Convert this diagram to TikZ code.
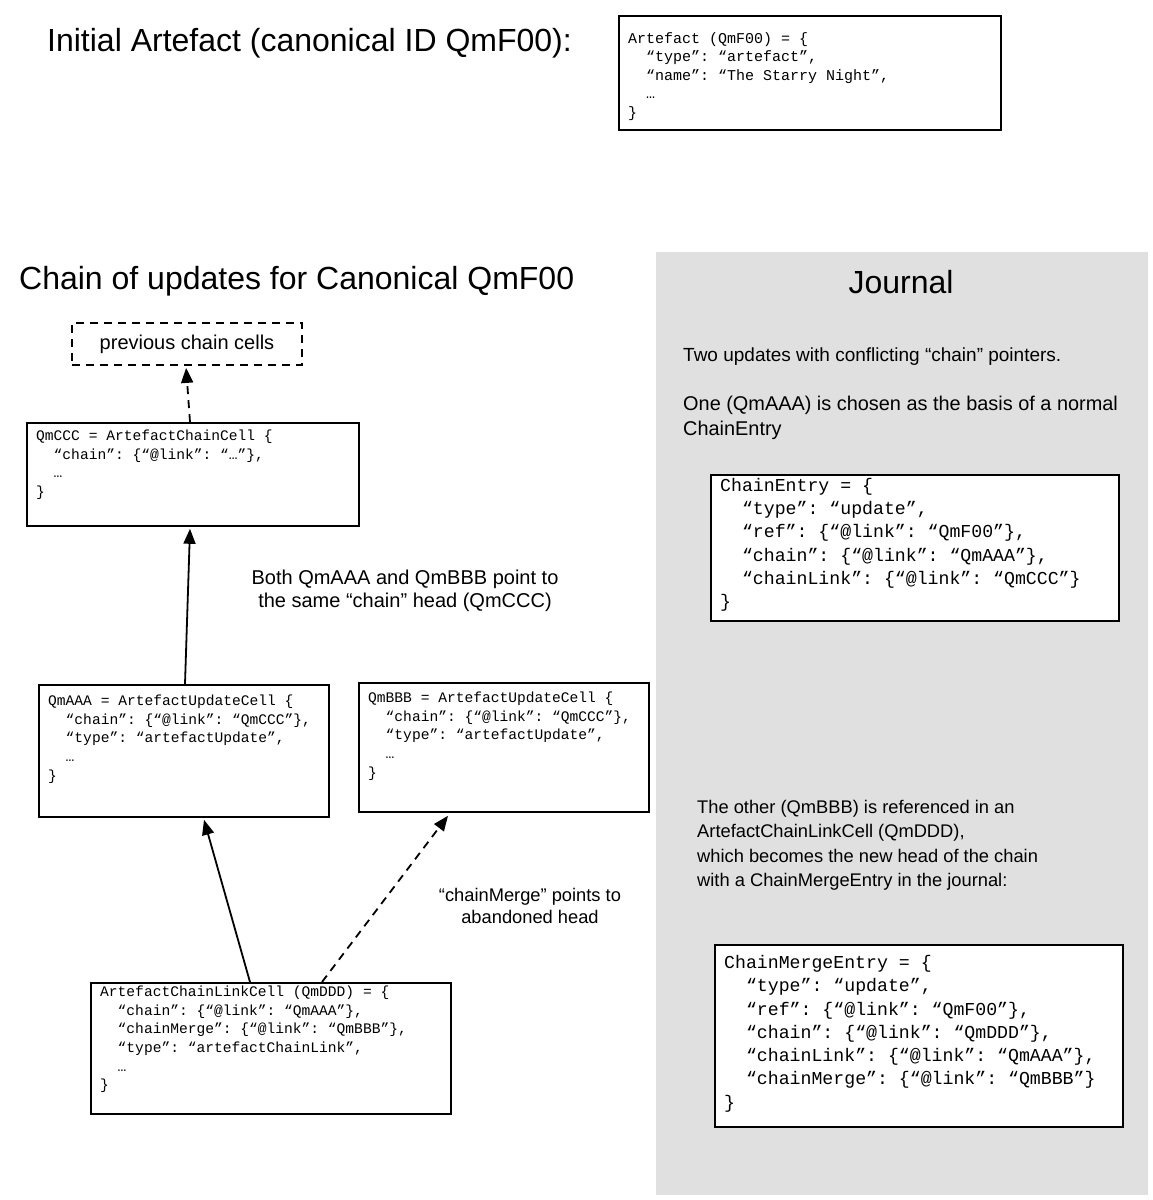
\documentclass[tikz,border=0pt]{standalone}
\usepackage{fontspec}
\setmainfont{Liberation Sans}
\setmonofont{Liberation Mono}
\usetikzlibrary{arrows.meta,calc}
\definecolor{journalgray}{HTML}{E0E0E0}
\tikzset{
  cellbox/.style={draw=black, line width=1.8pt, fill=white, inner sep=0pt, anchor=north west},
  smallcode/.style={font=\fontsize{14.6}{18.6}\selectfont\ttfamily, align=left, inner sep=0pt, anchor=north west},
  midcode/.style={font=\fontsize{15}{18.6}\selectfont\ttfamily, align=left, inner sep=0pt, anchor=north west},
  bigcode/.style={font=\fontsize{18.2}{23.3}\selectfont\ttfamily, align=left, inner sep=0pt, anchor=north west},
  title/.style={font=\fontsize{32}{36}\selectfont, inner sep=0pt},
  bodytext/.style={inner sep=0pt},
  arr/.style={line width=1.8pt, -{Triangle[length=15pt,width=12pt]}},
  dashpat/.style={dash pattern=on 8pt off 6pt},
}
\newcommand{\ind}{\hphantom{xx}}
\begin{document}
\begin{tikzpicture}[x=1pt,y=-1pt]
\useasboundingbox (0,0) rectangle (1152,1200);
\fill[white] (0,0) rectangle (1152,1200);
% journal background
\fill[journalgray] (656,252) rectangle (1148,1195);

% titles
\node[title, anchor=west] (t1) at (47,43) {Initial Artefact (canonical ID QmF00):};
\node[title, anchor=west] (t2) at (19,281) {Chain of updates for Canonical QmF00};
\node[title] (tj) at (901,282) {Journal};

% artefact box
\node[cellbox, minimum width=382, minimum height=114] (art) at (618,15) {};
\node[midcode] (artt) at ($(art.north west)+(10,17)$) {Artefact (QmF00) = \{\\\ind “type”: “artefact”,\\\ind “name”: “The Starry Night”,\\\ind …\\\}};

% previous chain cells
\node[draw=black, line width=1.8pt, dashpat, minimum width=230, minimum height=42, inner sep=0pt, font=\fontsize{20}{24}\selectfont] (prev) at (187,344) {previous chain cells};

% QmCCC
\node[cellbox, minimum width=332, minimum height=103] (ccc) at (26,422) {};
\node[smallcode] (ccct) at ($(ccc.north west)+(10,8)$) {QmCCC = ArtefactChainCell \{\\\ind “chain”: \{“@link”: “…”\},\\\ind …\\\}};

% QmAAA
\node[cellbox, minimum width=290, minimum height=132] (aaa) at (38,684) {};
\node[smallcode] (aaat) at ($(aaa.north west)+(10,11)$) {QmAAA = ArtefactUpdateCell \{\\\ind “chain”: \{“@link”: “QmCCC”\},\\\ind “type”: “artefactUpdate”,\\\ind …\\\}};

% QmBBB
\node[cellbox, minimum width=290, minimum height=129] (bbb) at (358,682) {};
\node[smallcode] (bbbt) at ($(bbb.north west)+(10,10)$) {QmBBB = ArtefactUpdateCell \{\\\ind “chain”: \{“@link”: “QmCCC”\},\\\ind “type”: “artefactUpdate”,\\\ind …\\\}};

% QmDDD
\node[cellbox, minimum width=360, minimum height=131] (ddd) at (90,982) {};
\node[smallcode] (dddt) at ($(ddd.north west)+(10,4)$) {ArtefactChainLinkCell (QmDDD) = \{\\\ind “chain”: \{“@link”: “QmAAA”\},\\\ind “chainMerge”: \{“@link”: “QmBBB”\},\\\ind “type”: “artefactChainLink”,\\\ind …\\\}};

% labels
\node[bodytext, align=center, font=\fontsize{20}{23.5}\selectfont] (lab1) at (405,591) {Both QmAAA and QmBBB point to\\the same “chain” head (QmCCC)};
\node[bodytext, align=center, font=\fontsize{18.3}{22}\selectfont] (lab2) at (530,906) {“chainMerge” points to\\abandoned head};

% journal texts
\node[bodytext, anchor=west, font=\fontsize{19}{24}\selectfont] (j1) at (683,357) {Two updates with conflicting “chain” pointers.};
\node[bodytext, anchor=north west, align=left, font=\fontsize{19.9}{25}\selectfont] (j2) at (683,396) {One (QmAAA) is chosen as the basis of a normal\\ChainEntry};
\node[bodytext, anchor=north west, align=left, font=\fontsize{18.3}{24.5}\selectfont] (j3) at (697,800) {The other (QmBBB) is referenced in an\\ArtefactChainLinkCell (QmDDD),\\which becomes the new head of the chain\\with a ChainMergeEntry in the journal:};

% ChainEntry
\node[cellbox, minimum width=408, minimum height=146] (ce) at (710,474) {};
\node[bigcode] (cet) at ($(ce.north west)+(10,4)$) {ChainEntry = \{\\\ind “type”: “update”,\\\ind “ref”: \{“@link”: “QmF00”\},\\\ind “chain”: \{“@link”: “QmAAA”\},\\\ind “chainLink”: \{“@link”: “QmCCC”\}\\\}};

% ChainMergeEntry
\node[cellbox, minimum width=408, minimum height=182] (cme) at (714,944) {};
\node[bigcode] (cmet) at ($(cme.north west)+(10,11)$) {ChainMergeEntry = \{\\\ind “type”: “update”,\\\ind “ref”: \{“@link”: “QmF00”\},\\\ind “chain”: \{“@link”: “QmDDD”\},\\\ind “chainLink”: \{“@link”: “QmAAA”\},\\\ind “chainMerge”: \{“@link”: “QmBBB”\}\\\}};

% connectors
\coordinate (c0) at ($(ccc.north west)+(164,0)$);
\coordinate (p0) at ($(prev.south west)+(115,2)$);
\draw[arr, dashpat] (c0) -- (p0);

\coordinate (a0) at ($(aaa.north west)+(147,0)$);
\coordinate (c1) at ($(ccc.south west)+(164,2)$);
\draw[arr] (a0) -- (c1);

\coordinate (d1) at ($(ddd.north west)+(160,0)$);
\coordinate (a1) at ($(aaa.south west)+(166,2)$);
\draw[arr] (d1) -- (a1);

\coordinate (d2) at ($(ddd.north west)+(232,0)$);
\coordinate (b1) at ($(bbb.south west)+(90,3)$);
\draw[arr, dashpat] (d2) -- (b1);
\end{tikzpicture}
\end{document}
